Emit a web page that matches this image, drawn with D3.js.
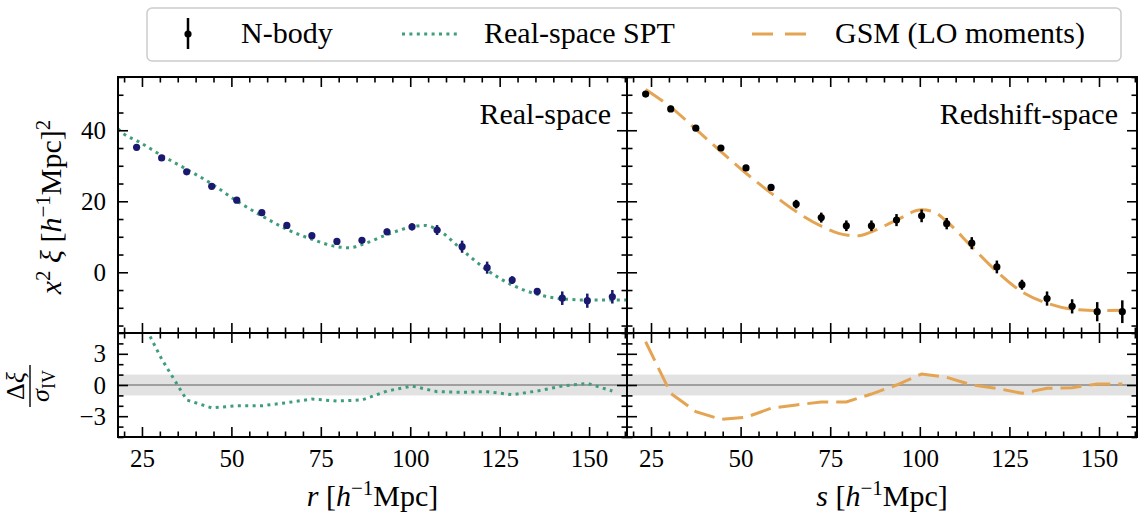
<!DOCTYPE html>
<html>
<head>
<meta charset="utf-8">
<script src="https://cdn.jsdelivr.net/npm/d3@7"></script>
<style>
  body { margin: 0; background: #fff; }
  svg text { font-family: "Liberation Serif", "DejaVu Serif", serif !important; fill: #000; }
</style>
</head>
<body>
<svg id="chart" width="1145" height="516" style='font-family:"Liberation Serif", serif'></svg>
<script>
// bin centres shared by both measurements
var binCentres = [23.5, 30.5, 37.5, 44.5, 51.5, 58.5, 65.5, 72.5, 79.5, 86.5,
                  93.5, 100.5, 107.5, 114.5, 121.5, 128.5, 135.5, 142.5, 149.5, 156.5];

// N-body, real space
var realXi  = [35.2, 32.2, 28.3, 24.2, 20.3, 16.8, 13.2, 10.3, 8.7, 9.0,
               11.4, 12.8, 11.9, 7.2, 1.3, -2.2, -5.4, -7.3, -8.0, -6.9];
var realErr = [0.4, 0.4, 0.4, 0.5, 0.5, 0.5, 0.5, 0.6, 0.7, 0.8,
               0.9, 1.0, 1.4, 1.7, 1.7, 1.1, 0.8, 1.9, 2.0, 1.9];

// N-body, redshift space
var redXi  = [50.2, 46.0, 40.6, 35.0, 29.4, 23.9, 19.2, 15.4, 13.1, 13.1,
              14.7, 15.9, 13.7, 8.2, 1.5, -3.5, -7.4, -9.6, -11.1, -11.1];
var redErr = [0.4, 0.4, 0.5, 0.5, 0.5, 0.6, 1.2, 1.4, 1.5, 1.5,
              1.7, 1.8, 1.6, 1.7, 1.8, 1.4, 2.0, 2.0, 2.7, 3.2];

// real-space SPT model
var sptR  = [18.3, 20, 23.5, 30.5, 37.5, 44.5, 51.5, 58.5, 65.5, 72.5, 79.5, 83,
             86.5, 93.5, 100.5, 104, 107.5, 114.5, 121.5, 128.5, 135.5, 142.5, 149.5, 156.5, 160.6];
var sptXi = [40.4, 38.9, 37.1, 32.9, 29.0, 24.9, 20.1, 15.9, 12.1, 9.3, 7.2, 6.9,
             7.8, 10.6, 12.8, 13.2, 12.1, 6.3, 0.6, -3.6, -6.2, -7.5, -7.8, -7.8, -7.8];

// GSM (LO moments) model
var gsmS  = [23.5, 30.5, 37.5, 44.5, 51.5, 58.5, 65.5, 72.5, 79.5, 83, 86.5,
             93.5, 100.5, 104, 107.5, 114.5, 121.5, 128.5, 135.5, 142.5, 149.5, 156.5];
var gsmXi = [51.5, 46.5, 40.3, 34.0, 27.9, 22.3, 17.1, 13.0, 10.5, 10.3, 11.4,
             14.7, 17.6, 17.0, 14.3, 7.2, 0.2, -5.5, -8.7, -10.4, -10.8, -10.7];

// residuals (model - N-body) / sigma
var realResid = [7.2, 2.5, -1.44, -2.2, -2.0, -2.0, -1.7, -1.35, -1.54, -1.44,
                 -0.58, -0.1, -0.64, -0.7, -0.64, -0.93, -0.58, -0.1, 0.16, -0.58];
var redResid  = [4.16, -0.8, -2.56, -3.3, -3.1, -2.24, -1.92, -1.63, -1.63, -0.87,
                 0.0, 1.06, 0.74, 0.0, -0.32, -0.8, -0.32, -0.26, 0.1, 0.1];

var xMajor = [25, 50, 75, 100, 125, 150];
var yTopMajor = [0, 20, 40];
var yBotMajor = [-3, 0, 3];

var green = "#3f9e79", orange = "#e4a452", navy = "#191970";
var serif = '"Liberation Serif", "DejaVu Serif", serif';

var svg = d3.select("#chart");

var xL = d3.scaleLinear().domain([18.3, 160.6]).range([118, 627]),
    xR = d3.scaleLinear().domain([18.3, 160.6]).range([627, 1137]),
    yTop = d3.scaleLinear().domain([-17.1, 55]).range([333, 77]),
    yBot = d3.scaleLinear().domain([-5, 5]).range([437, 333]);

var xMinor = d3.range(20, 161, 5).filter(function(v) { return xMajor.indexOf(v) < 0; });
var yTopMinor = d3.range(-15, 56, 5).filter(function(v) { return yTopMajor.indexOf(v) < 0; });
var yBotMinor = d3.range(-5, 6, 1).filter(function(v) { return yBotMajor.indexOf(v) < 0; });

var defs = svg.append("defs");
var clipId = 0;
function panel(x, y, labelsX, labelsY, yMajor, yMinor) {
  var x0 = x.range()[0], x1 = x.range()[1], y0 = y.range()[1], y1 = y.range()[0];
  var id = "clip" + (clipId++);
  defs.append("clipPath").attr("id", id).append("rect")
      .attr("x", x0).attr("y", y0).attr("width", x1 - x0).attr("height", y1 - y0);
  var g = svg.append("g");
  var plot = g.append("g").attr("clip-path", "url(#" + id + ")");

  function ax(gen, tx, ty, vals, size, labels) {
    var a = gen.tickValues(vals).tickSize(-size).tickPadding(12);
    if (!labels) a.tickFormat("");
    var s = g.append("g").attr("transform", "translate(" + tx + "," + ty + ")").call(a)
        .attr("font-family", serif);
    s.select(".domain").remove();
    s.selectAll(".tick line").attr("stroke", "#000").attr("stroke-width", 1.6);
    s.selectAll(".tick text").style("font-size", "25px").style("font-family", serif)
        .attr("fill", "#000");
    return s;
  }
  // bottom / top
  ax(d3.axisBottom(x), 0, y1, xMajor, 10, labelsX);
  ax(d3.axisBottom(x), 0, y1, xMinor, 5.5, false);
  ax(d3.axisTop(x), 0, y0, xMajor, 10, false);
  ax(d3.axisTop(x), 0, y0, xMinor, 5.5, false);
  // left / right
  ax(d3.axisLeft(y), x0, 0, yMajor, 10, labelsY);
  ax(d3.axisLeft(y), x0, 0, yMinor, 5.5, false);
  ax(d3.axisRight(y), x1, 0, yMajor, 10, false);
  ax(d3.axisRight(y), x1, 0, yMinor, 5.5, false);

  g.append("rect").attr("x", x0).attr("y", y0).attr("width", x1 - x0).attr("height", y1 - y0)
      .attr("fill", "none").attr("stroke", "#000").attr("stroke-width", 2);
  return plot;
}

function drawPoints(plot, x, y, vals, errs, color) {
  plot.selectAll(null).data(binCentres).enter().append("line")
      .attr("x1", function(d) { return x(d); })
      .attr("x2", function(d) { return x(d); })
      .attr("y1", function(d, i) { return y(vals[i] - errs[i]); })
      .attr("y2", function(d, i) { return y(vals[i] + errs[i]); })
      .attr("stroke", color).attr("stroke-width", 2.5);
  plot.selectAll(null).data(binCentres).enter().append("circle")
      .attr("cx", function(d) { return x(d); })
      .attr("cy", function(d, i) { return y(vals[i]); })
      .attr("r", 3.6).attr("fill", color);
}

function drawLine(plot, x, y, xs, ys, color, dash, curve) {
  var line = d3.line()
      .x(function(d) { return x(d[0]); })
      .y(function(d) { return y(d[1]); })
      .curve(curve);
  plot.append("path")
      .datum(xs.map(function(v, i) { return [v, ys[i]]; }))
      .attr("d", line)
      .attr("fill", "none").attr("stroke", color).attr("stroke-width", 3)
      .attr("stroke-dasharray", dash);
}

function residBand(plot, x, y) {
  plot.append("rect")
      .attr("x", x.range()[0]).attr("width", x.range()[1] - x.range()[0])
      .attr("y", y(1)).attr("height", y(-1) - y(1))
      .attr("fill", "#e2e2e2");
  plot.append("line")
      .attr("x1", x.range()[0]).attr("x2", x.range()[1])
      .attr("y1", y(0)).attr("y2", y(0))
      .attr("stroke", "#888").attr("stroke-width", 1.3);
}

var dotted = "3,4.4", dashed = "21,8";

// top left: real space
var pTL = panel(xL, yTop, false, true, yTopMajor, yTopMinor);
drawLine(pTL, xL, yTop, sptR, sptXi, green, dotted, d3.curveMonotoneX);
drawPoints(pTL, xL, yTop, realXi, realErr, navy);

// top right: redshift space
var pTR = panel(xR, yTop, false, false, yTopMajor, yTopMinor);
drawLine(pTR, xR, yTop, gsmS, gsmXi, orange, dashed, d3.curveMonotoneX);
drawPoints(pTR, xR, yTop, redXi, redErr, "#000");

// bottom panels: residuals
var pBL = panel(xL, yBot, true, true, yBotMajor, yBotMinor);
residBand(pBL, xL, yBot);
drawLine(pBL, xL, yBot, binCentres, realResid, green, dotted, d3.curveLinear);

var pBR = panel(xR, yBot, true, false, yBotMajor, yBotMinor);
residBand(pBR, xR, yBot);
drawLine(pBR, xR, yBot, binCentres, redResid, orange, dashed, d3.curveLinear);

// panel titles
svg.append("text").attr("x", 611).attr("y", 124).attr("text-anchor", "end")
    .style("font-size", "30px").text("Real-space");
svg.append("text").attr("x", 1118).attr("y", 124).attr("text-anchor", "end")
    .style("font-size", "30px").text("Redshift-space");

// axis labels
function xLabel(cx, v) {
  var t = svg.append("text").attr("x", cx).attr("y", 506).attr("text-anchor", "middle")
      .style("font-size", "30px");
  t.append("tspan").style("font-style", "italic").text(v);
  t.append("tspan").text(" [");
  t.append("tspan").style("font-style", "italic").text("h");
  t.append("tspan").attr("dy", -11).style("font-size", "21px").text("−1");
  t.append("tspan").attr("dy", 11).text("Mpc]");
}
xLabel(372.5, "r");
xLabel(882, "s");

var yl = svg.append("text").attr("transform", "translate(61,207) rotate(-90)")
    .attr("text-anchor", "middle").style("font-size", "30px");
yl.append("tspan").style("font-style", "italic").text("x");
yl.append("tspan").attr("dy", -11).style("font-size", "21px").text("2");
yl.append("tspan").attr("dy", 11).style("font-style", "italic").text(" ξ");
yl.append("tspan").text(" [");
yl.append("tspan").style("font-style", "italic").text("h");
yl.append("tspan").attr("dy", -11).style("font-size", "21px").text("−1");
yl.append("tspan").attr("dy", 11).text("Mpc]");
yl.append("tspan").attr("dy", -11).style("font-size", "21px").text("2");

var frac = svg.append("g").attr("transform", "translate(30,386) rotate(-90)");
var num = frac.append("text").attr("x", 0).attr("y", -6).attr("text-anchor", "middle")
    .style("font-size", "26px");
num.append("tspan").text("Δ");
num.append("tspan").style("font-style", "italic").text("ξ");
frac.append("line").attr("x1", -21).attr("x2", 21).attr("y1", 0).attr("y2", 0)
    .attr("stroke", "#000").attr("stroke-width", 1.4);
var den = frac.append("text").attr("x", 0).attr("y", 19).attr("text-anchor", "middle")
    .style("font-size", "26px");
den.append("tspan").style("font-style", "italic").text("σ");
den.append("tspan").attr("dy", 6).style("font-size", "18px").text("IV");

// legend
var lg = svg.append("g");
lg.append("rect").attr("x", 147).attr("y", 8).attr("width", 974).attr("height", 53)
    .attr("rx", 5).attr("fill", "#fff").attr("stroke", "#ccc").attr("stroke-width", 1.5);
lg.append("line").attr("x1", 188).attr("x2", 188).attr("y1", 18).attr("y2", 49)
    .attr("stroke", "#000").attr("stroke-width", 2.5);
lg.append("circle").attr("cx", 188).attr("cy", 34).attr("r", 3.6).attr("fill", "#000");
lg.append("text").attr("x", 241).attr("y", 43).style("font-size", "30px").text("N-body");
lg.append("line").attr("x1", 402).attr("x2", 460).attr("y1", 34).attr("y2", 34)
    .attr("stroke", green).attr("stroke-width", 3).attr("stroke-dasharray", dotted);
lg.append("text").attr("x", 484).attr("y", 43).style("font-size", "30px").text("Real-space SPT");
lg.append("line").attr("x1", 752).attr("x2", 807).attr("y1", 34).attr("y2", 34)
    .attr("stroke", orange).attr("stroke-width", 3).attr("stroke-dasharray", "21,12");
lg.append("text").attr("x", 835).attr("y", 43).style("font-size", "30px").text("GSM (LO moments)");
</script>
</body>
</html>
